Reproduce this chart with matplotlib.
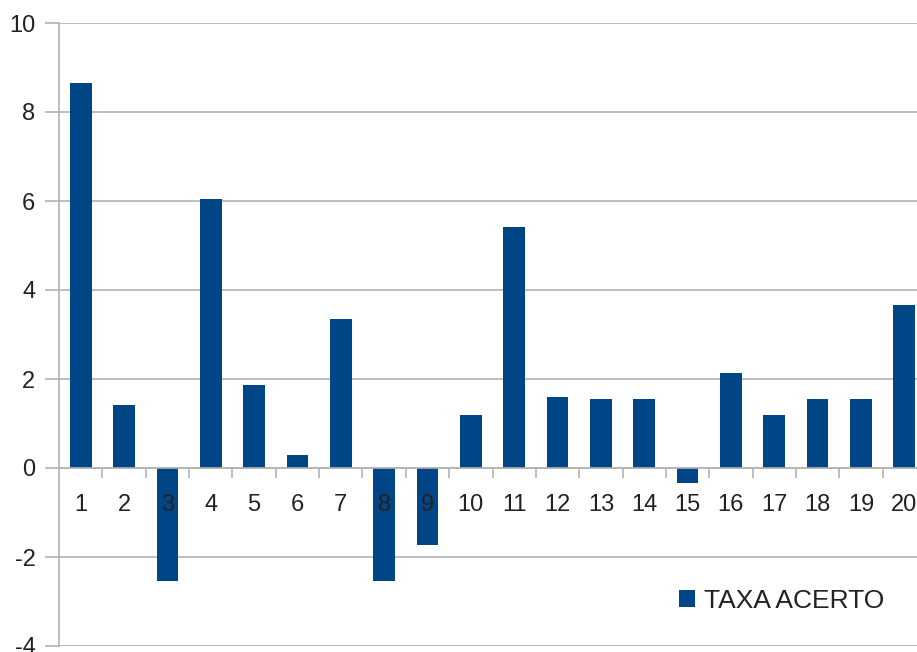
import matplotlib
matplotlib.use("Agg")
import matplotlib.pyplot as plt

# values
categories = list(range(1, 21))
taxa_acerto = [8.65, 1.42, -2.54, 6.04, 1.87, 0.29, 3.35, -2.54, -1.73, 1.19,
               5.42, 1.60, 1.55, 1.55, -0.34, 2.13, 1.19, 1.55, 1.55, 3.66]
y_ticks = [-4, -2, 0, 2, 4, 6, 8, 10]
series_name = "TAXA ACERTO"

bar_color = "#004586"
grid_color = "#b3b3b3"
text_color = "#222222"

plt.rcParams["font.family"] = ["Liberation Sans", "DejaVu Sans"]

W, H = 917, 652
fig = plt.figure(figsize=(W / 100, H / 100), dpi=100)
# plot area runs past the right edge, as in the cropped reference
ax = fig.add_axes([59 / W, 6 / H, (926 - 59) / W, (646 - 23) / H])

bars = ax.bar(categories, taxa_acerto, width=0.5, color=bar_color,
              zorder=1, label=series_name)

ax.set_xlim(0.5, 20.5)
ax.set_ylim(-4, 10)

# horizontal gridlines behind the bars
for y in y_ticks:
    ax.axhline(y, color=grid_color, linewidth=1.2, zorder=0)
ax.set_axisbelow(False)

for side in ("top", "right"):
    ax.spines[side].set_visible(False)
ax.spines["left"].set_color(grid_color)
ax.spines["left"].set_linewidth(1.2)
ax.spines["bottom"].set_position(("data", 0))
ax.spines["bottom"].set_color(grid_color)
ax.spines["bottom"].set_linewidth(1.2)

ax.set_yticks(y_ticks)
ax.set_yticklabels([str(v) for v in y_ticks])
ax.tick_params(axis="y", length=10, width=1.2, color=grid_color, pad=7,
               labelsize=17, labelcolor=text_color)

# tick marks between categories, labels at category centres
ax.set_xticks([c + 0.5 for c in categories[:-1]])
ax.set_xticklabels([])
ax.tick_params(axis="x", which="major", length=7.5, width=1.2, color=grid_color)
ax.set_xticks(categories, minor=True)
ax.set_xticklabels([str(c) for c in categories], minor=True)
ax.tick_params(axis="x", which="minor", length=0, pad=19,
               labelsize=17, labelcolor=text_color)

fig.legend(handles=[bars], labels=[series_name], loc="center left",
           bbox_to_anchor=(655 / W, 1 - 601 / H), frameon=False,
           handlelength=0.6, handleheight=0.6, handletextpad=0.35,
           fontsize=19, labelcolor=text_color)

fig.savefig("out.png", dpi=100)
